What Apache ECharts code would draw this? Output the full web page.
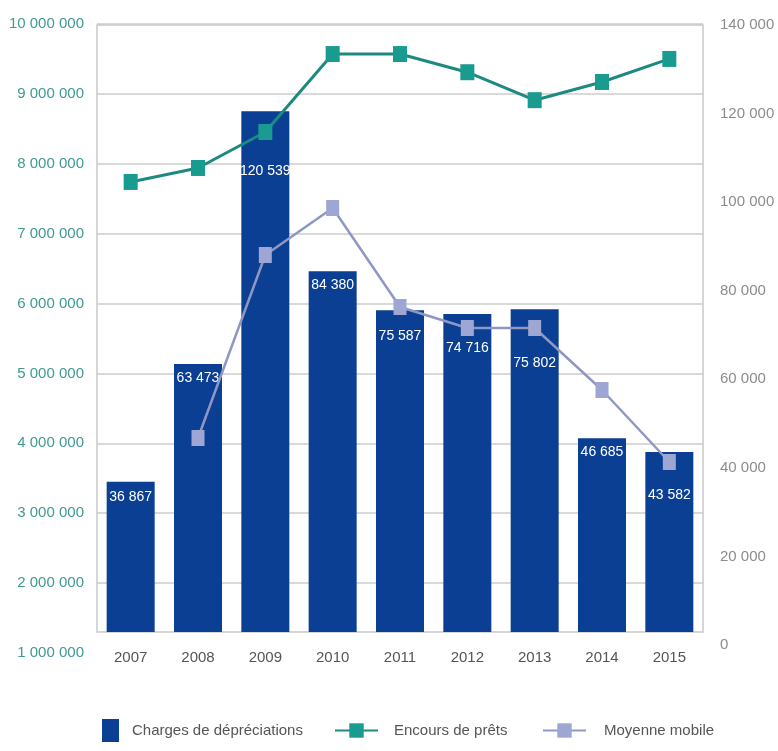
<!DOCTYPE html>
<html>
<head>
<meta charset="utf-8">
<script src="https://cdn.jsdelivr.net/npm/echarts@6/dist/echarts.min.js"></script>
<style>
html,body{margin:0;padding:0;background:#fff;}
#chart{width:778px;height:751px;}
</style>
</head>
<body>
<div id="chart"></div>
<script>
// ---- data ----
const years = ['2007','2008','2009','2010','2011','2012','2013','2014','2015'];
const charges = [36867, 63473, 120539, 84380, 75587, 74716, 75802, 46685, 43582];
const encours = [7740000, 7940000, 8455000, 9570000, 9570000, 9310000, 8910000, 9170000, 9500000];
const moyenne = [null, 46740, 88065, 98677, 76323, 71580, 71580, 57580, 41323];
const leftTicks = {min: 1000000, max: 10000000, step: 1000000};
const rightTicks = {min: 0, max: 140000, step: 20000};

// ---- layout / style ----
const labelDist = [8, 7, 53, 7, 19, 27, 47, 7, 36];
const FONT = '"Liberation Sans", Arial, sans-serif';
const fmt = v => String(v).replace(/\B(?=(\d{3})+(?!\d))/g, ' ');
const C_BAR = '#0a3f93', C_TEAL = '#1a9b90', C_TEAL_L = '#1d8a80', C_LAV = '#9ea6d4', C_LAV_L = '#9097c3';
const GRID_LEFT = 97, GRID_RIGHT = 75;

const chart = echarts.init(document.getElementById('chart'), null, {renderer: 'canvas'});
const catAxis = (gi, show) => ({
  type: 'category', gridIndex: gi, data: years, boundaryGap: true,
  show: show,
  axisLine: {show: false}, axisTick: {show: false},
  axisLabel: {show: show, color: '#555', fontFamily: FONT, fontSize: 15, margin: 18}
});

chart.setOption({
  animation: false,
  backgroundColor: '#fff',
  grid: [
    {left: GRID_LEFT, right: GRID_RIGHT, top: 24, bottom: 98},   // left axis (encours)
    {left: GRID_LEFT, right: GRID_RIGHT, top: 25, bottom: 106},  // right axis (moyenne)
    {left: GRID_LEFT, right: GRID_RIGHT, top: 25, bottom: 119, show: true, borderColor: '#c9c9c9', borderWidth: 1.5} // bars
  ],
  xAxis: [catAxis(0, false), catAxis(1, false), catAxis(2, true)],
  yAxis: [
    {type: 'value', gridIndex: 0, position: 'left', min: leftTicks.min, max: leftTicks.max, interval: leftTicks.step,
     axisLine: {show: false}, axisTick: {show: false},
     splitLine: {show: true, showMinLine: false, lineStyle: {color: '#cdcdcd', width: 1.5}},
     axisLabel: {color: '#3e9a92', fontFamily: FONT, fontSize: 15, margin: 13, formatter: fmt}},
    {type: 'value', gridIndex: 1, position: 'right', min: rightTicks.min, max: rightTicks.max, interval: rightTicks.step,
     axisLine: {show: false}, axisTick: {show: false}, splitLine: {show: false},
     axisLabel: {color: '#8c8c8c', fontFamily: FONT, fontSize: 15, margin: 17, formatter: fmt}},
    {type: 'value', gridIndex: 2, min: 2935, max: rightTicks.max, show: false, splitLine: {show: false}}
  ],
  legend: [
    {data: [{name: 'Charges de dépréciations', icon: 'rect'}], left: 97, top: 714, itemWidth: 17, itemHeight: 23,
     textStyle: {color: '#555', fontFamily: FONT, fontSize: 15, padding: [0, 0, 0, 8]}},
    {data: ['Encours de prêts'], left: 329, top: 718, itemWidth: 43, itemHeight: 18,
     textStyle: {color: '#555', fontFamily: FONT, fontSize: 15, padding: [0, 0, 0, 11]}},
    {data: ['Moyenne mobile'], left: 537, top: 718, itemWidth: 43, itemHeight: 18,
     textStyle: {color: '#555', fontFamily: FONT, fontSize: 15, padding: [0, 0, 0, 13]}}
  ],
  series: [
    {name: 'Charges de dépréciations', type: 'bar', xAxisIndex: 2, yAxisIndex: 2,
     barWidth: 48, itemStyle: {color: C_BAR}, z: 2,
     data: charges.map((v, i) => ({value: v, label: {distance: labelDist[i]}})),
     label: {show: true, position: 'insideTop', color: '#fff', fontFamily: FONT, fontSize: 14,
             formatter: p => fmt(p.value)}},
    {name: 'Encours de prêts', type: 'line', xAxisIndex: 0, yAxisIndex: 0, data: encours,
     symbol: 'rect', symbolSize: [14, 16], z: 5,
     itemStyle: {color: C_TEAL}, lineStyle: {color: C_TEAL_L, width: 3}},
    {name: 'Moyenne mobile', type: 'line', xAxisIndex: 1, yAxisIndex: 1, data: moyenne,
     symbol: 'rect', symbolSize: [13, 16], z: 4, connectNulls: false,
     itemStyle: {color: C_LAV}, lineStyle: {color: C_LAV_L, width: 2.5}}
  ]
});
</script>
</body>
</html>
